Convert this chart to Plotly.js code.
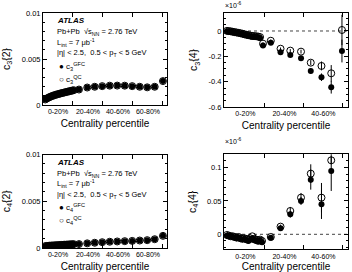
<!DOCTYPE html>
<html><head><meta charset="utf-8">
<script src="https://cdn.plot.ly/plotly-3.0.1.min.js"></script>
<style>html,body{margin:0;padding:0;background:#fff}#chart{width:352px;height:272px}</style>
</head><body><div id="chart"></div>
<script>
// ---- tick labels ----
const centralityTickLabels = ['0-20%', '20-40%', '40-60%', '60-80%'];
const centralityTickPos = [10, 30, 50, 70];
const binEdges = [20, 40, 60, 80];

// ---- left panels: c_n{2} vs centrality ----
const xLeft = [1.5, 2.5, 3.5, 4.5, 5.5, 6.5, 7.5, 8.5, 9.5, 10.5, 11.5, 12.5, 13.5, 14.5, 15.5, 16.5, 17.5, 18.5, 19.5, 20.5,
               24, 29.5, 34.5, 39.5, 44.5, 49.5, 54.5, 59.5, 64.5, 69.5, 74.5, 80];
const c32GFC = [0.00060, 0.00070, 0.00079, 0.00087, 0.00094, 0.00100, 0.00106, 0.00111, 0.00116, 0.00120,
                0.00125, 0.00129, 0.00133, 0.00137, 0.00141, 0.00145, 0.00149, 0.00153, 0.00157, 0.00161,
                0.00168, 0.00190, 0.00198, 0.00205, 0.00210, 0.00211, 0.00210, 0.00205, 0.00198, 0.00192, 0.00198, 0.00260];
const c32QC = [0.00060, 0.00070, 0.00079, 0.00087, 0.00094, 0.00100, 0.00106, 0.00111, 0.00116, 0.00120,
               0.00125, 0.00129, 0.00133, 0.00137, 0.00141, 0.00145, 0.00149, 0.00153, 0.00157, 0.00161,
               0.00168, 0.00190, 0.00198, 0.00205, 0.00210, 0.00211, 0.00210, 0.00205, 0.00198, 0.00192, 0.00198, 0.00260];
const c42GFC = [0.00020, 0.00022, 0.00023, 0.00025, 0.00026, 0.00027, 0.00028, 0.00029, 0.00030, 0.00031,
                0.00032, 0.00033, 0.00034, 0.00035, 0.00036, 0.00037, 0.00038, 0.00039, 0.00040, 0.00041,
                0.00042, 0.00050, 0.00056, 0.00062, 0.00067, 0.00070, 0.00073, 0.00076, 0.00080, 0.00084, 0.00094, 0.00130];
const c42QC = [0.00020, 0.00022, 0.00023, 0.00025, 0.00026, 0.00027, 0.00028, 0.00029, 0.00030, 0.00031,
               0.00032, 0.00033, 0.00034, 0.00035, 0.00036, 0.00037, 0.00038, 0.00039, 0.00040, 0.00041,
               0.00042, 0.00050, 0.00056, 0.00062, 0.00067, 0.00070, 0.00073, 0.00076, 0.00080, 0.00084, 0.00094, 0.00130];

// ---- top right: c3{4} (x10^-6) ----
const xC34 = [0.5, 1.5, 2.5, 3.5, 4.5, 5.5, 6.5, 7.5, 8.5, 9.5, 10.5, 11.5, 12.5, 13.5, 14.5, 15.5, 16.5, 17.5,
              19, 23, 28, 33, 38.5, 43.5, 49, 54, 59.5];
const c34GFC = [-0.002, -0.004, -0.006, -0.009, -0.012, -0.015, -0.018, -0.021, -0.026, -0.030, -0.034, -0.038, -0.042, -0.045, -0.046, -0.048, -0.050, -0.055,
                -0.115, -0.092, -0.168, -0.190, -0.216, -0.316, -0.365, -0.444, -0.158];
const c34GFCerr = [0, 0, 0, 0, 0, 0, 0, 0, 0, 0, 0, 0, 0, 0, 0, 0, 0, 0,
                   0.010, 0.010, 0.010, 0.012, 0.015, 0.020, 0.030, 0.050, 0.090];
const c34QC = [0.001, -0.001, -0.003, -0.006, -0.009, -0.012, -0.015, -0.018, -0.022, -0.026, -0.030, -0.033, -0.036, -0.039, -0.040, -0.042, -0.044, -0.048,
               -0.100, -0.077, -0.140, -0.155, -0.163, -0.250, -0.276, -0.334, 0.008];
const c34QCerr = [0, 0, 0, 0, 0, 0, 0, 0, 0, 0, 0, 0, 0, 0, 0, 0, 0, 0,
                  0.010, 0.010, 0.010, 0.012, 0.015, 0.020, 0.035, 0.065, 0.120];

// ---- bottom right: c4{4} (x10^-6) ----
const xC44 = [0.5, 1.5, 2.5, 3.5, 4.5, 5.5, 6.5, 7.5, 8.5, 9.5, 10.5, 11.5, 12.5, 13.5, 14.5, 15.5, 16.5, 17.5, 18.5,
              23, 28, 33, 38.5, 43.5, 49, 54];
const c44GFC = [-0.002, -0.003, -0.003, -0.004, -0.005, -0.006, -0.005, -0.007, -0.008, -0.007, -0.009, -0.010, -0.008, -0.006, -0.009, -0.010, -0.011, -0.009, -0.012,
                -0.005, 0.009, 0.030, 0.050, 0.082, 0.045, 0.095];
const c44GFCerr = [0, 0, 0, 0, 0, 0, 0, 0, 0, 0, 0, 0, 0, 0, 0, 0, 0, 0, 0,
                   0.002, 0.003, 0.005, 0.006, 0.015, 0.022, 0.030];
const c44QC = [-0.001, -0.002, -0.003, -0.003, -0.004, -0.005, -0.004, -0.006, -0.006, -0.006, -0.007, -0.008, -0.006, -0.003, -0.007, -0.008, -0.009, -0.008, -0.010,
               -0.004, 0.0115, 0.035, 0.055, 0.091, 0.055, 0.111];
const c44QCerr = [0, 0, 0, 0, 0, 0, 0, 0, 0, 0, 0, 0, 0, 0, 0, 0, 0, 0, 0,
                  0.002, 0.003, 0.006, 0.007, 0.014, 0.022, 0.006];

// ---- build ----
const FONT = 'Liberation Sans, Arial, sans-serif';
const W = 352, H = 272;
const px = v => v / W, py = v => 1 - v / H;

function openTrace(x, y, err, xa, ya, name) {
  return {x, y, xaxis: xa, yaxis: ya, type: 'scatter', mode: 'markers', name,
    marker: {symbol: 'circle-open', size: 7, color: '#000', line: {width: 1, color: '#000'}},
    error_y: err ? {type: 'data', array: err, visible: true, width: 0, thickness: 1, color: '#000'} : undefined,
    showlegend: false, hoverinfo: 'skip'};
}
function fillTrace(x, y, err, xa, ya, name) {
  return {x, y, xaxis: xa, yaxis: ya, type: 'scatter', mode: 'markers', name,
    marker: {symbol: 'circle', size: 6, color: '#000'},
    error_y: err ? {type: 'data', array: err, visible: true, width: 0, thickness: 1, color: '#000'} : undefined,
    showlegend: false, hoverinfo: 'skip'};
}

const data = [
  openTrace(xLeft, c32QC, null, 'x', 'y', 'c3 QC'),
  fillTrace(xLeft, c32GFC, null, 'x', 'y', 'c3 GFC'),
  openTrace(xC34, c34QC, c34QCerr, 'x2', 'y2', 'c3{4} QC'),
  fillTrace(xC34, c34GFC, c34GFCerr, 'x2', 'y2', 'c3{4} GFC'),
  openTrace(xLeft, c42QC, null, 'x3', 'y3', 'c4 QC'),
  fillTrace(xLeft, c42GFC, null, 'x3', 'y3', 'c4 GFC'),
  openTrace(xC44, c44QC, c44QCerr, 'x4', 'y4', 'c4{4} QC'),
  fillTrace(xC44, c44GFC, c44GFCerr, 'x4', 'y4', 'c4{4} GFC')
];

function xAxis(domain, range, anchor) {
  return {domain, range, anchor, showline: true, linecolor: '#000', linewidth: 1, mirror: 'ticks',
    showgrid: false, zeroline: false,
    tickmode: 'array', tickvals: centralityTickPos, ticktext: centralityTickLabels, ticks: '',
    tickfont: {family: FONT, size: 7, color: '#000'},
    minor: {tickmode: 'array', tickvals: binEdges, ticks: 'inside', ticklen: 4, tickcolor: '#000', tickwidth: 1},
    title: {text: 'Centrality percentile', font: {family: FONT, size: 10, color: '#000'}, standoff: 5}};
}
function yAxis(domain, range, anchor, tickvals, ticktext, minorDtick, title, standoff) {
  return {domain, range, anchor, showline: true, linecolor: '#000', linewidth: 1, mirror: 'ticks',
    showgrid: false, zeroline: false,
    tickmode: 'array', tickvals, ticktext, ticks: 'inside', ticklen: 4, tickcolor: '#000',
    tickfont: {family: FONT, size: 7.5, color: '#000'},
    minor: {dtick: minorDtick, ticks: 'inside', ticklen: 2, tickcolor: '#000'},
    title: {text: title, font: {family: FONT, size: 10.5, color: '#000'}, standoff}};
}

const xL = [px(43), px(167)], xR = [px(224), px(348)];
const layout = {
  width: W, height: H, margin: {l: 0, r: 0, t: 0, b: 0},
  paper_bgcolor: '#fff', plot_bgcolor: '#fff', showlegend: false,
  font: {family: FONT, color: '#000'},
  xaxis: xAxis(xL, [0, 82.7], 'y'),
  yaxis: yAxis([py(105), py(13)], [0, 0.01], 'x', [0, 0.005, 0.01], ['0', '0.005', '0.01'], 0.001, 'c<sub>3</sub>{2}', 9),
  xaxis2: xAxis(xR, [-1, 62.6], 'y2'),
  yaxis2: yAxis([py(107), py(13)], [-0.6, 0.142], 'x2', [-0.6, -0.4, -0.2, 0], ['-0.6', '-0.4', '-0.2', '0'], 0.05, 'c<sub>3</sub>{4}', 8),
  xaxis3: xAxis(xL, [0, 82.7], 'y3'),
  yaxis3: yAxis([py(248), py(154.5)], [0, 0.01], 'x3', [0, 0.005, 0.01], ['0', '0.005', '0.01'], 0.001, 'c<sub>4</sub>{2}', 9),
  xaxis4: xAxis(xR, [-1, 62.6], 'y4'),
  yaxis4: yAxis([py(249.3), py(154.3)], [-0.0225, 0.12], 'x4', [0, 0.05, 0.1], ['0', '0.05', '0.1'], 0.01, 'c<sub>4</sub>{4}', 8),
  shapes: [
    {type: 'line', xref: 'x2 domain', yref: 'y2', x0: 0, x1: 1, y0: 0, y1: 0, line: {color: '#444', width: 1, dash: 'dot'}, layer: 'below'},
    {type: 'line', xref: 'x4 domain', yref: 'y4', x0: 0, x1: 1, y0: 0, y1: 0, line: {color: '#444', width: 1, dash: 'dot'}, layer: 'below'}
  ],
  annotations: []
};

function txt(x, y, text, size, extra) {
  return Object.assign({xref: 'paper', yref: 'paper', x: px(x), y: py(y), xanchor: 'left', yanchor: 'middle',
    text, showarrow: false, font: {family: FONT, size, color: '#000'}}, extra || {});
}
const infoBlock = (top, n) => [
  txt(55, top, '<b><i>ATLAS</i></b>', 8),
  txt(55, top + 11, 'Pb+Pb  √s<sub>NN</sub> = 2.76 TeV', 7.5),
  txt(55, top + 21, 'L<sub>int</sub> = 7 μb<sup>-1</sup>', 7.5),
  txt(55, top + 32, '|η| < 2.5,  0.5 < p<sub>T</sub> < 5 GeV', 7.5),
  txt(57, top + 45, '● c<sub>' + n + '</sub><sup>GFC</sup>', 8),
  txt(57, top + 58, '○ c<sub>' + n + '</sub><sup>QC</sup>', 8)
];
layout.annotations.push(...infoBlock(21, 3), ...infoBlock(162.5, 4));
layout.annotations.push(txt(223, 5, '×10<sup>-6</sup>', 7));
layout.annotations.push(txt(223, 141, '×10<sup>-6</sup>', 7));

Plotly.newPlot('chart', data, layout, {staticPlot: true, displayModeBar: false});
</script></body></html>
